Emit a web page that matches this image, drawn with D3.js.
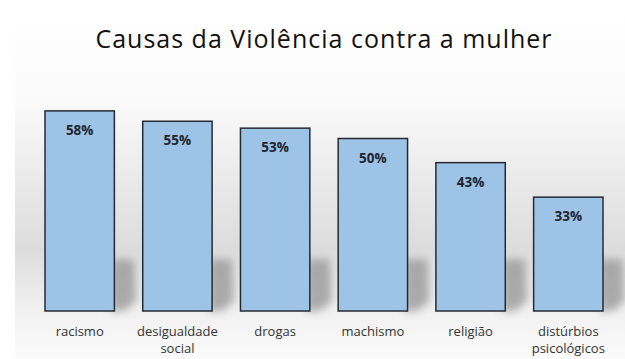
<!DOCTYPE html>
<html>
<head>
<meta charset="utf-8">
<script src="https://cdn.jsdelivr.net/npm/d3@7"></script>
<style>
  html, body { margin: 0; padding: 0; background: #fff; }
  svg { display: block; }
</style>
</head>
<body>
<div id="chart"></div>
<script>
// data
var categories = ['racismo', 'desigualdade social', 'drogas', 'machismo', 'religião', 'distúrbios psicológicos'];
var values = [58, 55, 53, 50, 43, 33];
var title = 'Causas da Violência contra a mulher';

var width = 625, height = 359;

var svg = d3.select('#chart').append('svg')
    .attr('width', width)
    .attr('height', height);

var defs = svg.append('defs');

var bg = defs.append('linearGradient')
    .attr('id', 'bg')
    .attr('x1', 0).attr('y1', 0).attr('x2', 0).attr('y2', 1);
bg.append('stop').attr('offset', '0%').attr('stop-color', '#ffffff');
bg.append('stop').attr('offset', '25%').attr('stop-color', '#fafafa');
bg.append('stop').attr('offset', '68%').attr('stop-color', '#dcdcdc');
bg.append('stop').attr('offset', '85%').attr('stop-color', '#f0f0f0');
bg.append('stop').attr('offset', '100%').attr('stop-color', '#fbfbfb');

defs.append('filter')
    .attr('id', 'blur')
    .attr('x', '-50%').attr('y', '-50%').attr('width', '200%').attr('height', '200%')
  .append('feGaussianBlur')
    .attr('stdDeviation', 4);

// chart area background
svg.append('rect')
    .attr('x', 15).attr('y', 14)
    .attr('width', width - 15).attr('height', height - 14)
    .attr('fill', 'url(#bg)');

var x = d3.scaleBand()
    .domain(categories)
    .range([45, 603])
    .paddingInner(0.29)
    .paddingOuter(0);

var y = d3.scaleLinear()
    .domain([0, 60])
    .range([311, 104]);

// soft shadow behind the bars
svg.append('g')
  .selectAll('path')
  .data(categories)
  .enter().append('path')
    .attr('d', function(d) {
      var x1 = x(d) + x.bandwidth(), y0 = y(0);
      return 'M' + (x1 - 4) + ',' + (y0 - 52) +
        'L' + (x1 + 20) + ',' + (y0 - 52) +
        'L' + (x1 + 22) + ',' + (y0 - 10) +
        'L' + (x1 + 10) + ',' + (y0) +
        'L' + (x1 - 4) + ',' + (y0) + 'Z';
    })
    .attr('fill', '#9a9a9a')
    .attr('opacity', 0.8)
    .attr('filter', 'url(#blur)');

// bars
svg.append('g')
  .selectAll('rect')
  .data(values)
  .enter().append('rect')
    .attr('x', function(d, i) { return x(categories[i]); })
    .attr('y', function(d) { return y(d); })
    .attr('width', x.bandwidth())
    .attr('height', function(d) { return y(0) - y(d); })
    .attr('fill', '#9dc3e6')
    .attr('stroke', '#262b33')
    .attr('stroke-width', 1.5);

// value labels
svg.append('g')
  .selectAll('text')
  .data(values)
  .enter().append('text')
    .attr('x', function(d, i) { return x(categories[i]) + x.bandwidth() / 2; })
    .attr('y', function(d) { return y(d) + 24; })
    .attr('text-anchor', 'middle')
    .attr('font-family', 'Open Sans, sans-serif')
    .attr('font-size', 13.5)
    .attr('font-weight', 'bold')
    .attr('fill', '#1e2530')
    .text(function(d) { return d + '%'; });

// category labels (wrapped on space for the two-word ones)
var cat = svg.append('g')
  .selectAll('text')
  .data(categories)
  .enter().append('text')
    .attr('x', function(d) { return x(d) + x.bandwidth() / 2; })
    .attr('y', 336)
    .attr('text-anchor', 'middle')
    .attr('font-family', 'Open Sans, sans-serif')
    .attr('font-size', 13)
    .attr('fill', '#333');

cat.each(function(d) {
  var words = d.split(' ');
  var t = d3.select(this);
  words.forEach(function(w, i) {
    t.append('tspan')
      .attr('x', x(d) + x.bandwidth() / 2)
      .attr('dy', i === 0 ? 0 : 17)
      .text(w);
  });
});

svg.append('text')
    .attr('x', 324)
    .attr('y', 48)
    .attr('text-anchor', 'middle')
    .attr('font-family', 'Open Sans, sans-serif')
    .attr('font-size', 25)
    .attr('letter-spacing', 1)
    .attr('fill', '#111')
    .text(title);
</script>
</body>
</html>
